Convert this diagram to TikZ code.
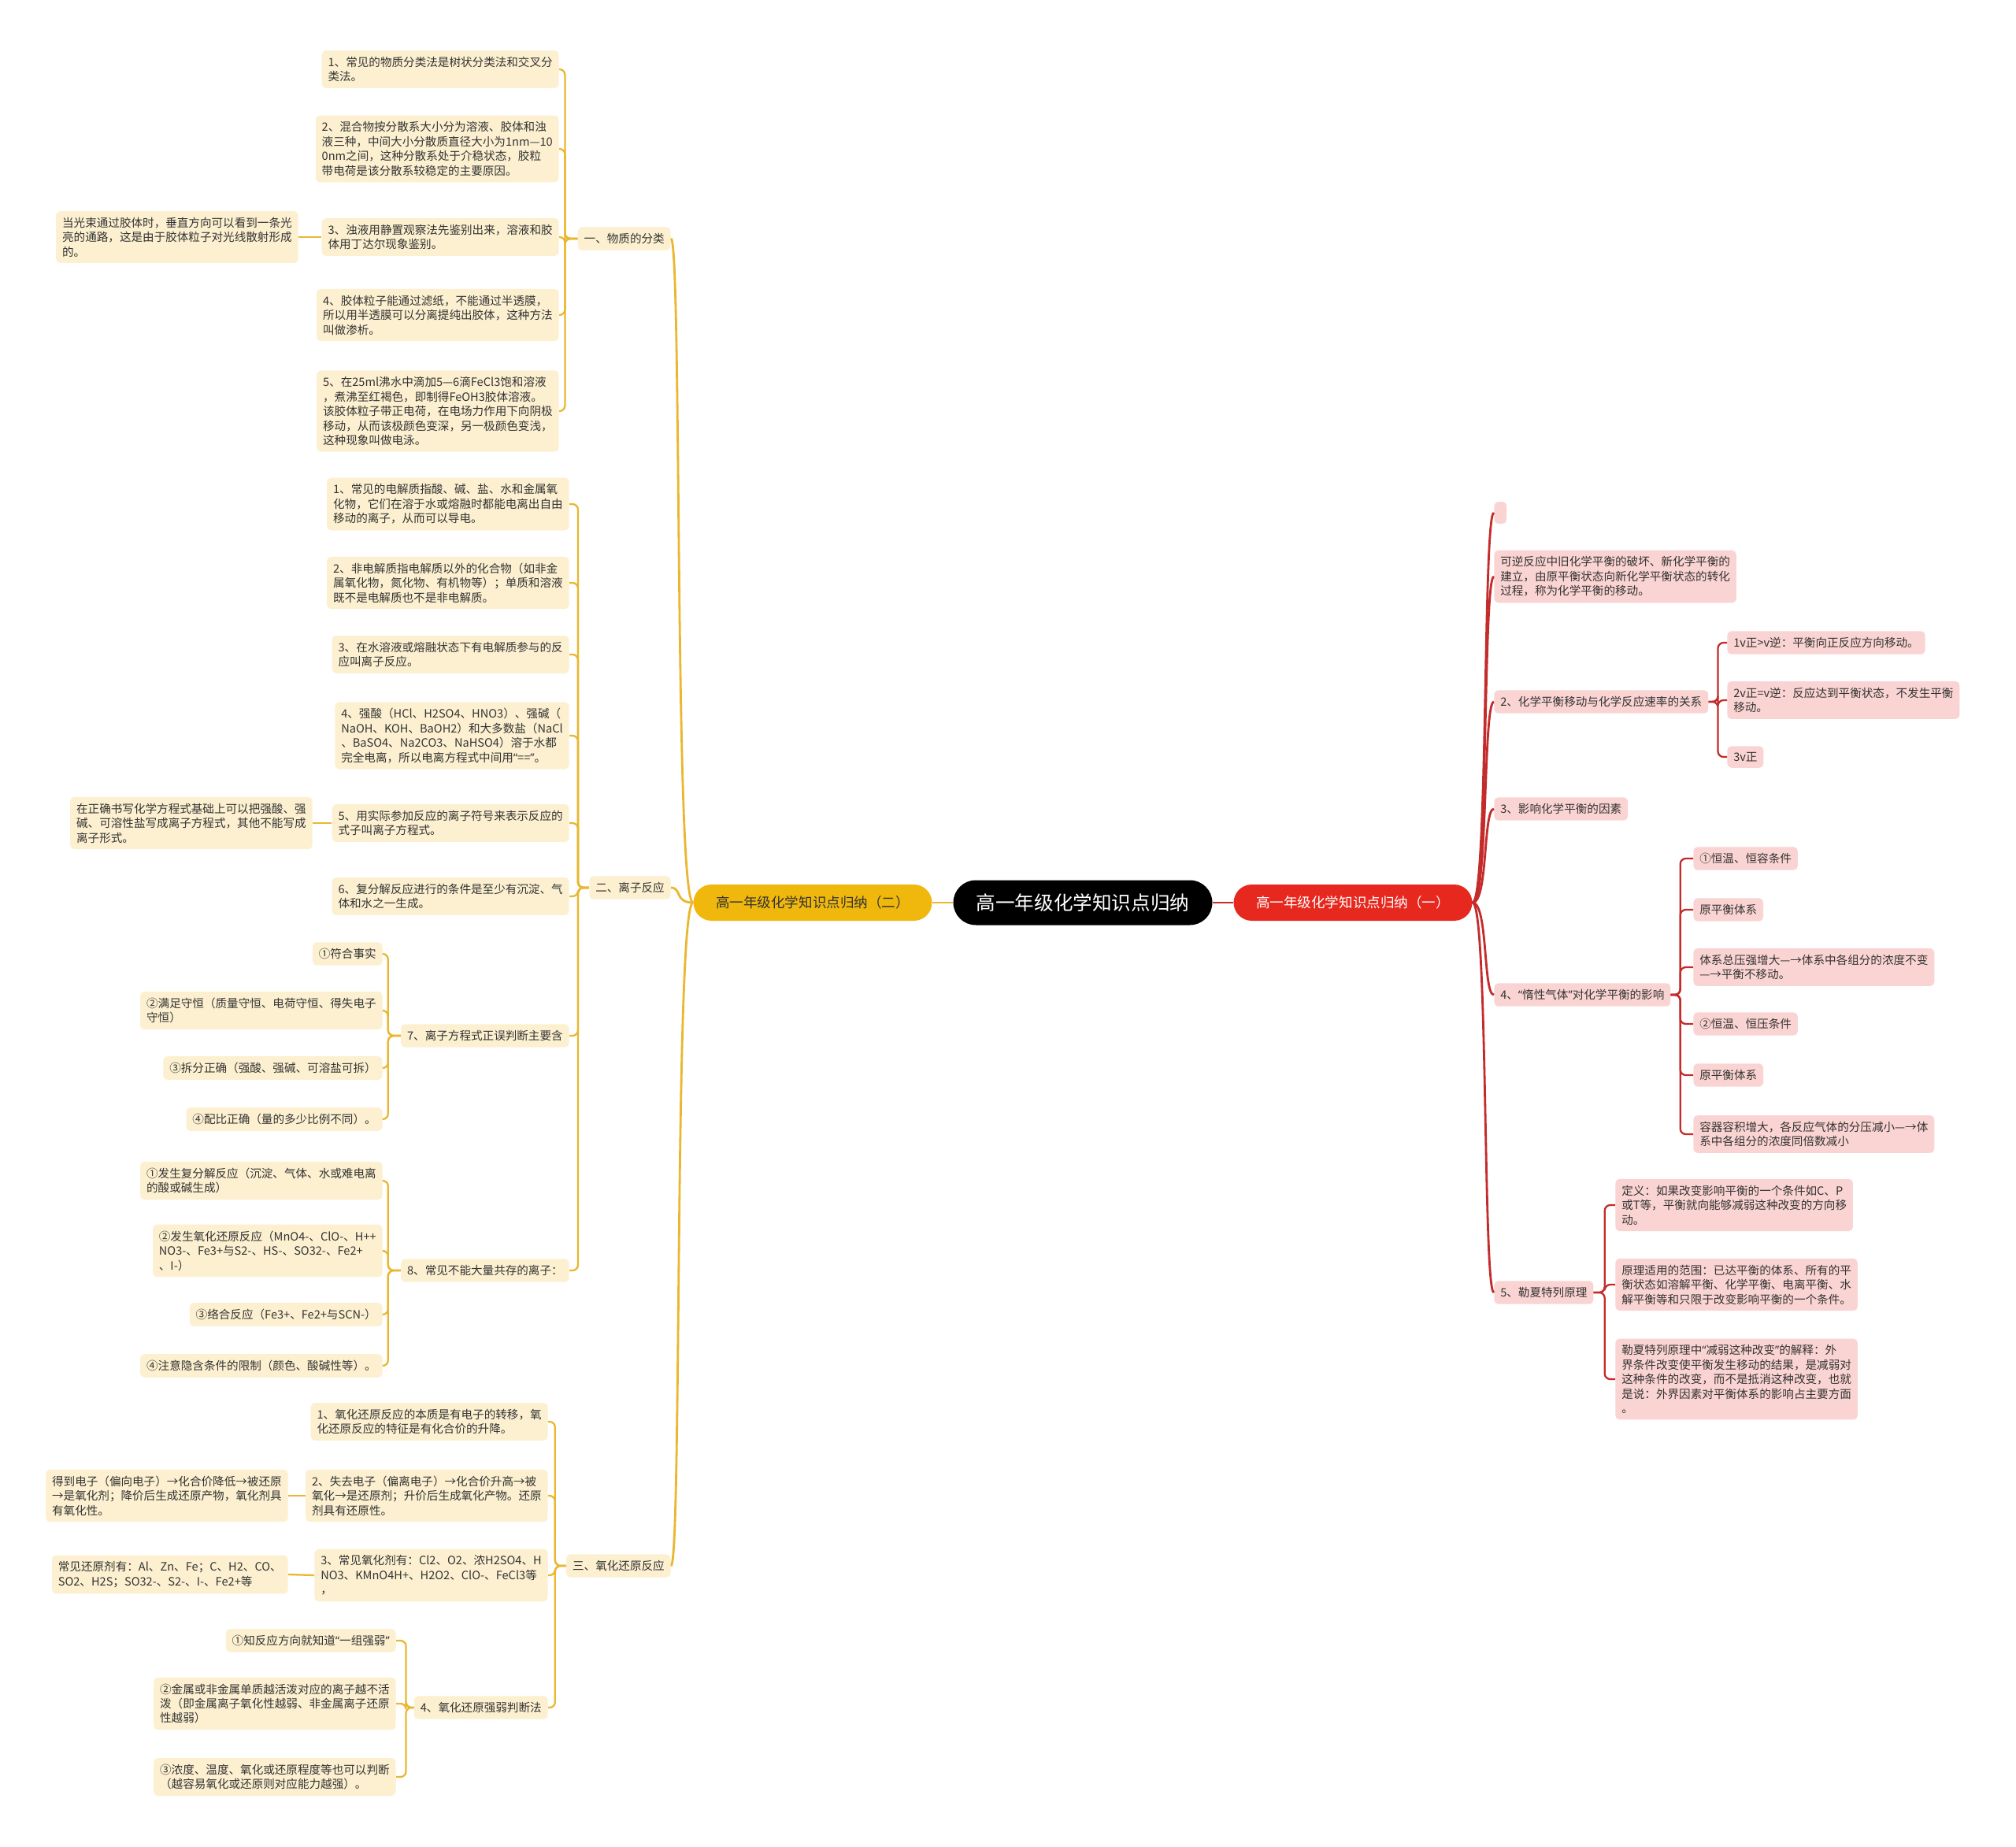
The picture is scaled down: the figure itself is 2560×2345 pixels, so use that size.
\documentclass[tikz,border=0pt]{standalone}
\usepackage{fontspec}
\setmainfont{Noto Sans CJK SC}
\newfontfamily\quotefont{Noto Sans}
\newcommand{\qopen}{{\quotefont “}}
\newcommand{\qclose}{{\quotefont ”}}

\definecolor{leafy}{HTML}{FCF0D0}
\definecolor{liney}{HTML}{E9B730}
\definecolor{maingold}{HTML}{F0B80C}
\definecolor{leafr}{HTML}{FAD4D2}
\definecolor{liner}{HTML}{C42B2B}
\definecolor{mainred}{HTML}{E6281E}
\definecolor{txt}{HTML}{333333}

\tikzset{%
  % Specifications for style of nodes:
      leafL/.style = {rectangle, rounded corners=3pt, fill=leafy, text=txt, align=left, inner sep=4.5pt, anchor=east, font=\fontsize{8.3}{10.5}\selectfont},
      leafR/.style = {rectangle, rounded corners=3pt, fill=leafr, text=txt, align=left, inner sep=4.5pt, anchor=west, font=\fontsize{8.3}{10.5}\selectfont},
      topic/.style = {rectangle, rounded corners=0.46cm, minimum width=6.06cm, minimum height=0.92cm, font=\fontsize{10}{12}\selectfont},
       root/.style = {rectangle, fill=black, text=white, rounded corners=0.57cm, minimum width=6.58cm, minimum height=1.14cm, font=\fontsize{14}{16}\selectfont},
  % Specifications for style of links:
      linkL/.style = {draw=liney, line width=1.3pt, rounded corners=4pt},
      linkR/.style = {draw=liner, line width=1.3pt, rounded corners=4pt},
}

\begin{document}
\begin{tikzpicture}[x=0.02cm, y=-0.02cm]
    \fill[white] (0,0) rectangle (2560,2345);
    \useasboundingbox (0,0) rectangle (2560,2345);

    % Centre and the two main topics
    \node (root)  [root] at (1375,1146) {高一年级化学知识点归纳};
    \node (mainL) [topic, fill=maingold, text=txt] at (1032,1146) {高一年级化学知识点归纳（二）};
    \node (mainR) [topic, fill=mainred, text=white] at (1718,1146) {高一年级化学知识点归纳（一）};

    % Left: first level
    \node (a1) [leafL] at (852,303)  {一、物质的分类};
    \node (a2) [leafL] at (852,1127) {二、离子反应};
    \node (a3) [leafL] at (852,1988) {三、氧化还原反应};

    % Left: 物质的分类
    \node (b11) [leafL] at (710,88)  {1、常见的物质分类法是树状分类法和交叉分\\类法。};
    \node (b12) [leafL] at (710,189) {2、混合物按分散系大小分为溶液、胶体和浊\\液三种，中间大小分散质直径大小为1nm—10\\0nm之间，这种分散系处于介稳状态，胶粒\\带电荷是该分散系较稳定的主要原因。};
    \node (b13) [leafL] at (710,301) {3、浊液用静置观察法先鉴别出来，溶液和胶\\体用丁达尔现象鉴别。};
    \node (n13) [leafL] at (379,301) {当光束通过胶体时，垂直方向可以看到一条光\\亮的通路，这是由于胶体粒子对光线散射形成\\的。};
    \node (b14) [leafL] at (710,400) {4、胶体粒子能通过滤纸，不能通过半透膜，\\所以用半透膜可以分离提纯出胶体，这种方法\\叫做渗析。};
    \node (b15) [leafL] at (710,522) {5、在25ml沸水中滴加5—6滴FeCl3饱和溶液\\，煮沸至红褐色，即制得FeOH3胶体溶液。\\该胶体粒子带正电荷，在电场力作用下向阴极\\移动，从而该极颜色变深，另一极颜色变浅，\\这种现象叫做电泳。};

    % Left: 离子反应
    \node (b21) [leafL] at (723,640)  {1、常见的电解质指酸、碱、盐、水和金属氧\\化物，它们在溶于水或熔融时都能电离出自由\\移动的离子，从而可以导电。};
    \node (b22) [leafL] at (723,740)  {2、非电解质指电解质以外的化合物（如非金\\属氧化物，氮化物、有机物等）；单质和溶液\\既不是电解质也不是非电解质。};
    \node (b23) [leafL] at (723,831)  {3、在水溶液或熔融状态下有电解质参与的反\\应叫离子反应。};
    \node (b24) [leafL] at (723,934)  {4、强酸（HCl、H2SO4、HNO3）、强碱（\\NaOH、KOH、BaOH2）和大多数盐（NaCl\\、BaSO4、Na2CO3、NaHSO4）溶于水都\\完全电离，所以电离方程式中间用\qopen==\qclose。};
    \node (b25) [leafL] at (723,1045) {5、用实际参加反应的离子符号来表示反应的\\式子叫离子方程式。};
    \node (n25) [leafL] at (397,1045) {在正确书写化学方程式基础上可以把强酸、强\\碱、可溶性盐写成离子方程式，其他不能写成\\离子形式。};
    \node (b26) [leafL] at (723,1138) {6、复分解反应进行的条件是至少有沉淀、气\\体和水之一生成。};
    \node (b27) [leafL] at (723,1315) {7、离子方程式正误判断主要含};
    \node (b28) [leafL] at (723,1613) {8、常见不能大量共存的离子：};

    \node (c1) [leafL] at (486,1211) {①符合事实};
    \node (c2) [leafL] at (486,1283) {②满足守恒（质量守恒、电荷守恒、得失电子\\守恒）};
    \node (c3) [leafL] at (486,1356) {③拆分正确（强酸、强碱、可溶盐可拆）};
    \node (c4) [leafL] at (486,1421) {④配比正确（量的多少比例不同）。};

    \node (d1) [leafL] at (486,1499) {①发生复分解反应（沉淀、气体、水或难电离\\的酸或碱生成）};
    \node (d2) [leafL] at (486,1588) {②发生氧化还原反应（MnO4-、ClO-、H++\\NO3-、Fe3+与S2-、HS-、SO32-、Fe2+\\、I-）};
    \node (d3) [leafL] at (486,1669) {③络合反应（Fe3+、Fe2+与SCN-）};
    \node (d4) [leafL] at (486,1734) {④注意隐含条件的限制（颜色、酸碱性等）。};

    % Left: 氧化还原反应
    \node (e1) [leafL] at (696,1805) {1、氧化还原反应的本质是有电子的转移，氧\\化还原反应的特征是有化合价的升降。};
    \node (e2) [leafL] at (696,1899) {2、失去电子（偏离电子）→化合价升高→被\\氧化→是还原剂；升价后生成氧化产物。还原\\剂具有还原性。};
    \node (ne2) [leafL] at (366,1899) {得到电子（偏向电子）→化合价降低→被还原\\→是氧化剂；降价后生成还原产物，氧化剂具\\有氧化性。};
    \node (e3) [leafL] at (696,2000) {3、常见氧化剂有：Cl2、O2、浓H2SO4、H\\NO3、KMnO4H+、H2O2、ClO-、FeCl3等\\，};
    \node (ne3) [leafL] at (366,1999) {常见还原剂有：Al、Zn、Fe；C、H2、CO、\\SO2、H2S；SO32-、S2-、I-、Fe2+等};
    \node (e4) [leafL] at (696,2168) {4、氧化还原强弱判断法};

    \node (f1) [leafL] at (503,2083) {①知反应方向就知道\qopen 一组强弱\qclose};
    \node (f2) [leafL] at (503,2163) {②金属或非金属单质越活泼对应的离子越不活\\泼（即金属离子氧化性越弱、非金属离子还原\\性越弱）};
    \node (f3) [leafL] at (503,2256) {③浓度、温度、氧化或还原程度等也可以判断\\（越容易氧化或还原则对应能力越强）。};

    % Right: first level
    \node (r0) [leafR, minimum width=0.3cm, minimum height=0.56cm] at (1897,651) {};
    \node (r1) [leafR] at (1897,732)  {可逆反应中旧化学平衡的破坏、新化学平衡的\\建立，由原平衡状态向新化学平衡状态的转化\\过程，称为化学平衡的移动。};
    \node (r2) [leafR] at (1897,891)  {2、化学平衡移动与化学反应速率的关系};
    \node (r3) [leafR] at (1897,1027) {3、影响化学平衡的因素};
    \node (r4) [leafR] at (1897,1263) {4、\qopen 惰性气体\qclose 对化学平衡的影响};
    \node (r5) [leafR] at (1897,1641) {5、勒夏特列原理};

    \node (s1) [leafR] at (2193,816) {1v正>v逆：平衡向正反应方向移动。};
    \node (s2) [leafR] at (2193,889) {2v正=v逆：反应达到平衡状态，不发生平衡\\移动。};
    \node (s3) [leafR] at (2193,961) {3v正};

    \node (t1) [leafR] at (2150,1090) {①恒温、恒容条件};
    \node (t2) [leafR] at (2150,1155) {原平衡体系};
    \node (t3) [leafR] at (2150,1228) {体系总压强增大—→体系中各组分的浓度不变\\—→平衡不移动。};
    \node (t4) [leafR] at (2150,1300) {②恒温、恒压条件};
    \node (t5) [leafR] at (2150,1365) {原平衡体系};
    \node (t6) [leafR] at (2150,1440) {容器容积增大，各反应气体的分压减小—→体\\系中各组分的浓度同倍数减小};

    \node (u1) [leafR] at (2051,1530) {定义：如果改变影响平衡的一个条件如C、P\\或T等，平衡就向能够减弱这种改变的方向移\\动。};
    \node (u2) [leafR] at (2051,1631) {原理适用的范围：已达平衡的体系、所有的平\\衡状态如溶解平衡、化学平衡、电离平衡、水\\解平衡等和只限于改变影响平衡的一个条件。};
    \node (u3) [leafR] at (2051,1751) {勒夏特列原理中\qopen 减弱这种改变\qclose 的解释：外\\界条件改变使平衡发生移动的结果，是减弱对\\这种条件的改变，而不是抵消这种改变，也就\\是说：外界因素对平衡体系的影响占主要方面\\。};

    % Draw links
    \draw[linkL, line width=1.6pt] (root.west) -- (mainL.east);
    \draw[linkR, line width=1.6pt] (root.east) -- (mainR.west);

    \foreach \c in {a1,a2,a3}
        \draw[linkL, line width=1.6pt] (mainL.west) .. controls +(-24,0) and +(14,0) .. (\c.east);
    \foreach \c in {r0,r1,r2,r3,r4,r5}
        \draw[linkR, line width=1.6pt] (mainR.east) .. controls +(20,0) and +(-14,0) .. (\c.west);

    \foreach \c in {b11,b12,b13,b14,b15}
        \draw[linkL] (a1.west) -- ++(-16,0) |- (\c.east);
    \foreach \c in {b21,b22,b23,b24,b25,b26,b27,b28}
        \draw[linkL] (a2.west) -- ++(-14,0) |- (\c.east);
    \foreach \c in {c1,c2,c3,c4}
        \draw[linkL] (b27.west) -- ++(-16,0) |- (\c.east);
    \foreach \c in {d1,d2,d3,d4}
        \draw[linkL] (b28.west) -- ++(-16,0) |- (\c.east);
    \foreach \c in {e1,e2,e3,e4}
        \draw[linkL] (a3.west) -- ++(-14,0) |- (\c.east);
    \foreach \c in {f1,f2,f3}
        \draw[linkL] (e4.west) -- ++(-10,0) |- (\c.east);

    \draw[linkL] (b13.west) -- (n13.east);
    \draw[linkL] (b25.west) -- (n25.east);
    \draw[linkL] (e2.west) -- (ne2.east);
    \draw[linkL] (e3.west) -- (ne3.east);

    \foreach \c in {s1,s2,s3}
        \draw[linkR] (r2.east) -- ++(12,0) |- (\c.west);
    \foreach \c in {t1,t2,t3,t4,t5,t6}
        \draw[linkR] (r4.east) -- ++(12,0) |- (\c.west);
    \foreach \c in {u1,u2,u3}
        \draw[linkR] (r5.east) -- ++(14,0) |- (\c.west);

\end{tikzpicture}
\end{document}
